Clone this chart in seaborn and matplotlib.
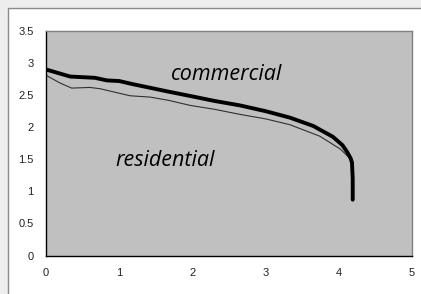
import matplotlib
matplotlib.use("Agg")

import matplotlib.pyplot as plt
import pandas as pd
import seaborn as sns
from matplotlib.patches import Rectangle


# values
commercial_x = [0, 0.15, 0.33, 0.67, 0.83, 1.0, 1.19, 1.4, 1.65, 2.0, 2.3, 2.65,
                3.0, 3.33, 3.65, 3.92, 4.05, 4.11, 4.16, 4.18, 4.19, 4.19]
commercial_y = [2.90, 2.85, 2.79, 2.77, 2.73, 2.72, 2.67, 2.62, 2.56, 2.48, 2.41, 2.34,
                2.25, 2.15, 2.02, 1.85, 1.72, 1.62, 1.52, 1.45, 1.20, 0.87]

residential_x = [0, 0.19, 0.35, 0.6, 0.74, 1.0, 1.15, 1.42, 1.67, 1.97, 2.3, 2.65,
                 3.0, 3.33, 3.74, 4.02, 4.12]
residential_y = [2.81, 2.69, 2.61, 2.62, 2.60, 2.53, 2.49, 2.47, 2.42, 2.34, 2.28, 2.20,
                 2.13, 2.04, 1.86, 1.66, 1.55]

x_ticks = [0, 1, 2, 3, 4, 5]
y_ticks = [0, 0.5, 1, 1.5, 2, 2.5, 3, 3.5]
y_tick_labels = ["0", "0.5", "1", "1.5", "2", "2.5", "3", "3.5"]


def main() -> None:
    sns.set_style("white")
    plt.rcParams["font.family"] = ["Liberation Sans", "DejaVu Sans"]

    commercial = pd.DataFrame({"x": commercial_x, "y": commercial_y})
    residential = pd.DataFrame({"x": residential_x, "y": residential_y})

    fig = plt.figure(figsize=(4.21, 2.94), dpi=100)
    fig.patch.set_facecolor("#ededed")
    frame = Rectangle((8 / 421, -0.1), 1.2, 1 - 8 / 294 + 0.1,
                      transform=fig.transFigure, facecolor="white",
                      edgecolor="#8a8a8a", linewidth=1.0, zorder=0)
    fig.add_artist(frame)

    ax = fig.add_axes([46 / 421, 38.5 / 294, 366 / 421, 224.5 / 294])
    ax.set_facecolor("#c0c0c0")

    sns.lineplot(data=residential, x="x", y="y", sort=False, estimator=None,
                 color="#303030", linewidth=0.8, ax=ax)
    sns.lineplot(data=commercial, x="x", y="y", sort=False, estimator=None,
                 color="black", linewidth=2.8, ax=ax)

    ax.set_xlim(0, 5)
    ax.set_ylim(0, 3.5)
    ax.set_xticks(x_ticks)
    ax.set_yticks(y_ticks)
    ax.set_yticklabels(y_tick_labels)
    ax.set_xlabel("")
    ax.set_ylabel("")
    ax.tick_params(axis="both", direction="out", length=3, width=0.8,
                   labelsize=8, colors="#222222", pad=6)

    for side in ["left", "bottom"]:
        ax.spines[side].set_color("black")
        ax.spines[side].set_linewidth(1.0)
    for side in ["top", "right"]:
        ax.spines[side].set_color("#808080")
        ax.spines[side].set_linewidth(1.0)

    ax.text(2.47, 2.82, "commercial", family=["Open Sans", "DejaVu Sans"],
            style="italic", fontsize=15.5, ha="center", va="center", color="black")
    ax.text(1.63, 1.48, "residential", family=["Open Sans", "DejaVu Sans"],
            style="italic", fontsize=15.5, ha="center", va="center", color="black")

    fig.savefig("out.png", dpi=100, facecolor=fig.get_facecolor())
    plt.close(fig)


if __name__ == "__main__":
    main()
